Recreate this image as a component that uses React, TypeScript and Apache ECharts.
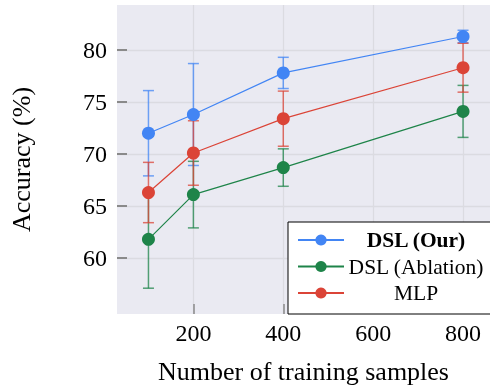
import React, { useEffect, useRef } from "react";
import * as echarts from "echarts";

const samples = [100, 200, 400, 800];
const seriesNames = ["DSL (Our)", "DSL (Ablation)", "MLP"];
const dslOurMean = [72.0, 73.8, 77.8, 81.3];
const dslOurErr = [4.1, 4.9, 1.5, 0.6];
const dslAblMean = [61.8, 66.1, 68.7, 74.1];
const dslAblErr = [4.7, 3.2, 1.8, 2.5];
const mlpMean = [66.3, 70.1, 73.4, 78.3];
const mlpErr = [2.9, 3.1, 2.65, 2.35];
const yTicks = [60, 65, 70, 75, 80];
const xTicks = [200, 400, 600, 800];

const colors = ["#4285F4", "#1E8449", "#DB4437"];
const errColors = ["rgba(66,133,244,0.75)", "rgba(30,132,73,0.75)", "rgba(219,68,55,0.75)"];
const FONT = "'Liberation Serif', 'Times New Roman', serif";

export default function App() {
  const ref = useRef<HTMLDivElement>(null);
  useEffect(() => {
    if (!ref.current) return;
    const chart = echarts.init(ref.current, undefined, { renderer: "svg" });
    const means = [dslOurMean, dslAblMean, mlpMean];
    const errs = [dslOurErr, dslAblErr, mlpErr];

    const errSeries = means.map((m, si) => ({
      type: "custom",
      z: 1,
      silent: true,
      data: samples.map((x, i) => [x, m[i] - errs[si][i], m[i] + errs[si][i]]),
      renderItem: (params: any, api: any) => {
        const x = api.value(0);
        const lo = api.coord([x, api.value(1)]);
        const hi = api.coord([x, api.value(2)]);
        const hw = 5.5;
        const style = { stroke: errColors[si], lineWidth: 1.5 };
        return {
          type: "group",
          children: [
            { type: "line", shape: { x1: lo[0], y1: lo[1], x2: hi[0], y2: hi[1] }, style },
            { type: "line", shape: { x1: lo[0] - hw, y1: lo[1], x2: lo[0] + hw, y2: lo[1] }, style },
            { type: "line", shape: { x1: hi[0] - hw, y1: hi[1], x2: hi[0] + hw, y2: hi[1] }, style },
          ],
        };
      },
    }));

    const lineSeries = means.map((m, si) => ({
      name: seriesNames[si],
      type: "line",
      z: 3,
      data: samples.map((x, i) => [x, m[i]]),
      symbol: "circle",
      symbolSize: 13,
      color: colors[si],
      lineStyle: { width: 1.2, color: colors[si] },
      itemStyle: { color: colors[si] },
    }));

    chart.setOption({
      animation: false,
      grid: {
        left: 115,
        right: 0,
        top: 5,
        bottom: 75,
        show: true,
        backgroundColor: "#EAEAF2",
        borderWidth: 0,
      },
      xAxis: {
        type: "value",
        min: 30,
        max: 860,
        name: "Number of training samples",
        nameLocation: "middle",
        nameGap: 44,
        nameTextStyle: { fontFamily: FONT, fontSize: 26, color: "#000" },
        axisLine: { show: false },
        axisTick: {
          show: true,
          inside: true,
          length: 10,
          customValues: xTicks,
          lineStyle: { color: "#8a8a8a", width: 1.5 },
        },
        axisLabel: {
          customValues: xTicks,
          margin: 7,
          fontFamily: FONT,
          fontSize: 24,
          color: "#000",
        },
        splitLine: { show: true, lineStyle: { color: "#DBDBE1", width: 1.3 } },
      },
      yAxis: {
        type: "value",
        min: 54.62,
        max: 84.33,
        name: "Accuracy (%)",
        nameLocation: "middle",
        nameGap: 83,
        nameTextStyle: { fontFamily: FONT, fontSize: 26, color: "#000" },
        axisLine: { show: false },
        axisTick: {
          show: true,
          inside: true,
          length: 10,
          customValues: yTicks,
          lineStyle: { color: "#8a8a8a", width: 2 },
        },
        axisLabel: {
          customValues: yTicks,
          margin: 10,
          fontFamily: FONT,
          fontSize: 24,
          color: "#000",
        },
        splitLine: { show: true, lineStyle: { color: "#DBDBE1", width: 1.3 } },
      },
      legend: {
        orient: "vertical",
        left: 288,
        top: 222,
        data: seriesNames,
        backgroundColor: "#fff",
        borderColor: "#000",
        borderWidth: 1,
        borderRadius: 0,
        padding: [7, 40, 10, 9],
        itemWidth: 46,
        itemHeight: 14,
        itemGap: 4.5,
        formatter: (name: string) =>
          name === "DSL (Our)" ? `{b|${name}}` : `{n|${name}}`,
        textStyle: {
          fontFamily: FONT,
          color: "#000",
          rich: {
            b: { fontFamily: FONT, fontSize: 21.5, fontWeight: "bold", width: 134, align: "center", lineHeight: 22, color: "#000" },
            n: { fontFamily: FONT, fontSize: 21.5, width: 134, align: "center", lineHeight: 22, color: "#000" },
          },
        },
      },
      series: [...errSeries, ...lineSeries],
    });
    return () => chart.dispose();
  }, []);
  return <div ref={ref} style={{ position: "fixed", left: 0, top: 0, width: 490, height: 389 }} />;
}
